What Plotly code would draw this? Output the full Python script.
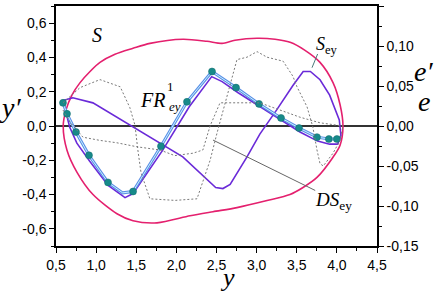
import plotly.graph_objects as go

# ---- data (left axis y', right axis e/e') ----
s_x = [0.59, 0.625, 0.70, 0.80, 0.924, 1.048, 1.235, 1.46, 1.671, 2.083, 2.382, 2.569, 2.73, 3.005, 3.23, 3.417,
       3.603, 3.79, 3.952, 4.04, 4.076, 4.04, 3.952, 3.752, 3.578, 3.416, 3.13, 2.755, 2.456, 2.17, 1.759, 1.46,
       1.26, 0.961, 0.762, 0.637, 0.59]
s_y = [0.0, 0.094, 0.182, 0.253, 0.318, 0.371, 0.418, 0.453, 0.482, 0.506, 0.494, 0.482, 0.50, 0.512, 0.506, 0.488,
       0.441, 0.371, 0.253, 0.124, 0.0, -0.112, -0.182, -0.30, -0.359, -0.40, -0.435, -0.476, -0.50, -0.524, -0.565, -0.553,
       -0.512, -0.40, -0.27, -0.141, 0.0]

sey_x = [0.575, 0.61, 0.67, 0.76, 0.92, 1.15, 1.36, 1.46, 1.83, 2.16, 2.44, 2.57, 2.77, 3.04, 3.32, 3.54, 3.76, 3.91,
         4.01, 4.05, 4.03, 3.91, 3.79, 3.67, 3.58, 3.45, 3.25, 3.04, 2.88, 2.67, 2.58, 2.49, 2.08, 1.67, 1.46, 1.26,
         0.96, 0.71, 0.575]
sey_y = [0.147, 0.106, -0.006, -0.10, -0.206, -0.347, -0.418, -0.394, -0.141, 0.112, 0.288, 0.259, 0.194, 0.112,
         0.029, -0.035, -0.088, -0.106, -0.106, -0.053, 0.035, 0.18, 0.27, 0.318, 0.318, 0.235, 0.094, -0.047, -0.18,
         -0.341, -0.365, -0.359, -0.18, -0.065, -0.006, 0.053, 0.135, 0.165, 0.147]

fr_dot_x = [0.587, 0.637, 0.749, 0.911, 1.148, 1.46, 1.808, 2.132, 2.444, 2.743, 3.03, 3.304, 3.528, 3.752, 3.90, 4.00]
fr_dot_y = [0.135, 0.071, -0.035, -0.171, -0.329, -0.382, -0.118, 0.141, 0.318, 0.224, 0.129, 0.047, -0.012, -0.065,
            -0.076, -0.076]
fr_line_x = [0.587, 0.637, 0.749, 0.911, 1.148, 1.33, 1.46, 1.808, 2.132, 2.444, 2.743, 3.03, 3.304, 3.528, 3.752,
             3.90, 4.00, 4.03]
fr_line_y = [0.135, 0.071, -0.035, -0.171, -0.329, -0.39, -0.382, -0.118, 0.141, 0.318, 0.224, 0.129, 0.047, -0.012,
             -0.065, -0.076, -0.076, -0.07]

ea_x = [0.587, 0.80, 1.048, 1.30, 1.42, 1.484, 1.52, 1.559, 1.67, 1.983, 2.257, 2.32, 2.42, 2.506, 2.63, 2.755, 2.88,
        3.005, 3.13, 3.33, 3.453, 3.503, 3.628, 3.70, 3.752, 3.79, 3.83, 3.952, 4.04, 4.076]
ea_y = [0.029, 0.048, 0.058, 0.049, 0.023, 0.001, -0.030, -0.058, -0.091, -0.093, -0.091, -0.072, -0.043, -0.009,
        0.037, 0.083, 0.086, 0.093, 0.086, 0.081, 0.062, 0.049, 0.024, -0.001, -0.030, -0.047, -0.050, -0.034, -0.018,
        0.0]
eb_x = [0.587, 0.674, 0.836, 1.048, 1.26, 1.51, 1.796, 1.98, 2.207, 2.33, 2.42, 2.544, 2.83, 3.04, 3.29, 3.54, 3.79,
        4.076]
eb_y = [0.020, 0.005, -0.014, -0.018, -0.021, -0.026, -0.030, -0.037, -0.034, -0.03, 0.0, 0.029, 0.029, 0.029, 0.020,
        0.011, 0.004, 0.0]

x_ticks = [0.5, 1.0, 1.5, 2.0, 2.5, 3.0, 3.5, 4.0, 4.5]
y_ticks = [-0.6, -0.4, -0.2, 0.0, 0.2, 0.4, 0.6]
y2_ticks = [-0.15, -0.10, -0.05, 0.0, 0.05, 0.10, 0.15]


def fmt(v, d):
    return f"{v:.{d}f}".replace(".", ",")


PINK = "#e4206e"
PURPLE = "#6a2ad8"
TEAL = "#178a8a"
GRAY = "#7a7a7a"

fig = go.Figure()
fig.add_trace(go.Scatter(x=ea_x, y=ea_y, yaxis="y2", mode="lines",
                         line=dict(color=GRAY, width=1, dash="2px,2px")))
fig.add_trace(go.Scatter(x=eb_x, y=eb_y, yaxis="y2", mode="lines",
                         line=dict(color=GRAY, width=1, dash="2px,2px")))
fig.add_trace(go.Scatter(x=s_x, y=s_y, mode="lines", line=dict(color=PINK, width=1.6, shape="spline", smoothing=0.8)))
fig.add_trace(go.Scatter(x=sey_x, y=sey_y, mode="lines", line=dict(color=PURPLE, width=1.6)))
fig.add_trace(go.Scatter(x=fr_line_x, y=fr_line_y, mode="lines", line=dict(color="#5a8fe6", width=3)))
fig.add_trace(go.Scatter(x=fr_line_x, y=fr_line_y, mode="lines", line=dict(color="#c8f2ff", width=1)))
fig.add_trace(go.Scatter(x=fr_dot_x, y=fr_dot_y, mode="markers",
                         marker=dict(color=TEAL, size=7, line=dict(color="#0e6a6a", width=0.5))))

tickfont = dict(family="Liberation Sans, Arial", size=14, color="black")
fig.update_layout(
    width=434, height=294, margin=dict(l=56, r=57, t=6, b=48, autoexpand=False),
    plot_bgcolor="white", paper_bgcolor="white", showlegend=False,
    xaxis=dict(range=[0.5, 4.5], tickvals=x_ticks, ticktext=[fmt(v, 1) for v in x_ticks], automargin=False,
               ticks="outside", ticklen=5, tickwidth=1, tickcolor="black",
               minor=dict(dtick=0.25, tick0=0.5, ticks="outside", ticklen=3, tickcolor="black"),
               showline=True, linecolor="black", linewidth=1.5, mirror=True, showgrid=False, zeroline=False,
               tickfont=tickfont),
    yaxis=dict(range=[-0.7, 0.7], tickvals=y_ticks, ticktext=[fmt(v, 1) for v in y_ticks], automargin=False,
               ticks="outside", ticklen=5, tickcolor="black",
               minor=dict(dtick=0.1, tick0=0.0, ticks="outside", ticklen=3, tickcolor="black"),
               showline=True, linecolor="black", linewidth=1.5, showgrid=False,
               zeroline=True, zerolinecolor="#333333", zerolinewidth=1.5, tickfont=tickfont),
    yaxis2=dict(range=[-0.15, 0.15], overlaying="y", side="right", tickvals=y2_ticks, automargin=False,
                ticktext=[fmt(v, 2) for v in y2_ticks],
                ticks="outside", ticklen=5, tickcolor="black",
                minor=dict(dtick=0.025, tick0=0.0, ticks="outside", ticklen=3, tickcolor="black"),
                showline=True, linecolor="black", linewidth=1.5, showgrid=False, zeroline=False,
                tickfont=tickfont),
)

serif = "Liberation Serif, Times New Roman"
ann = [
    dict(x=-0.143, y=0.579, xref="paper", yref="paper", text="<i>y′</i>", font=dict(family=serif, size=28)),
    dict(x=1.146, y=0.729, xref="paper", yref="paper", text="<i>e′</i>", font=dict(family=serif, size=28)),
    dict(x=1.146, y=0.604, xref="paper", yref="paper", text="<i>e</i>", font=dict(family=serif, size=28)),
    dict(x=0.535, y=-0.133, xref="paper", yref="paper", text="<i>y</i>", font=dict(family=serif, size=26)),
    dict(x=1.011, y=0.529, text="<i>S</i>", font=dict(family=serif, size=20)),
    dict(x=3.877, y=0.47, text="<i>S</i><sub>ey</sub>", font=dict(family=serif, size=18)),
    dict(x=1.70, y=0.153, text="<i>FR</i>", font=dict(family=serif, size=20)),
    dict(x=1.93, y=0.228, text="1", font=dict(family=serif, size=13)),
    dict(x=1.98, y=0.112, text="<i>ey</i>", font=dict(family=serif, size=13)),
    dict(x=3.96, y=-0.44, text="<i>DS</i><sub>ey</sub>", font=dict(family=serif, size=19)),
]
for a in ann:
    a.setdefault("showarrow", False)
    a["xanchor"] = "center"
    a["yanchor"] = "middle"
    a["font"]["color"] = "black"
    fig.add_annotation(**a)

fig.add_shape(type="line", x0=3.69, y0=0.34, x1=3.76, y1=0.42, line=dict(color="#4a7a7a", width=1))
fig.add_shape(type="line", x0=2.456, y0=-0.082, x1=3.73, y1=-0.376, line=dict(color="#666666", width=1))

fig.write_html("out.html", config={"displayModeBar": False},
               post_script="document.body.style.margin='0';document.body.style.overflow='hidden';")
